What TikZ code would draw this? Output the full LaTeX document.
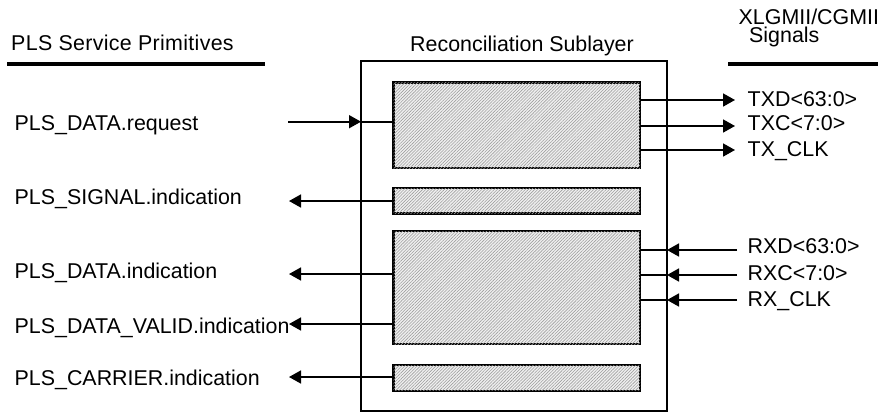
\documentclass[tikz,border=0pt]{standalone}
\usepackage{fontspec}
\setmainfont{Liberation Sans}
\usetikzlibrary{arrows.meta,patterns.meta}
\begin{document}
\begin{tikzpicture}[x=1pt,y=-1pt,
  lbl/.style={font=\fontsize{21.4}{24}\selectfont, inner sep=0pt, anchor=base west},
  outerbox/.style={draw, line width=2.8pt, inner sep=0pt, outer sep=0pt, anchor=north west},
  hatchbox/.style={draw, line width=2.3pt, inner sep=0pt, outer sep=0pt, anchor=north west,
    fill=gray!12, postaction={pattern={Lines[angle=45,distance=2.2pt,line width=0.6pt]}, pattern color=gray!75}},
  arr/.style={line width=1.7pt, -{Triangle[length=12pt,width=13pt]}},
  conn/.style={line width=1.7pt},
  rulebar/.style={line width=3.2pt}]
\useasboundingbox (0,0) rectangle (878,413);

% boxes
\node[outerbox, minimum width=306pt, minimum height=350pt] (rs) at (361,61) {};
\node[hatchbox, minimum width=246.5pt, minimum height=85.5pt] (b1) at (393.5,82.5) {};
\node[hatchbox, minimum width=246.5pt, minimum height=25.5pt] (b2) at (393.5,188) {};
\node[hatchbox, minimum width=246.5pt, minimum height=113pt] (b3) at (393.5,231) {};
\node[hatchbox, minimum width=246.5pt, minimum height=25.7pt] (b4) at (393.5,365) {};

% headers
\node[lbl, font=\fontsize{21.4}{24}\selectfont\addfontfeature{LetterSpace=1.5}] (hl) at (11,50) {PLS Service Primitives};
\node[lbl] (hm) at (410,51.7) {Reconciliation Sublayer};
\node[lbl, text depth=0pt] (hr1) at (738.5,24.5) {XLGMII/CGMII};
\node[lbl, text height=15.5pt] (hr2) at (749,42.2) {Signals};
\coordinate (rlA) at (7,64);
\coordinate (rlB) at (265,64);
\coordinate (rrA) at (728,64);
\coordinate (rrB) at (878,64);
\draw[rulebar] (rlA) -- (rlB);
\draw[rulebar] (rrA) -- (rrB);

% left labels
\node[lbl] (req) at (14.5,130) {PLS\_DATA.request};
\node[lbl] (sig) at (14.5,204) {PLS\_SIGNAL.indication};
\node[lbl] (dind) at (14.5,278) {PLS\_DATA.indication};
\node[lbl] (dval) at (14.5,333) {PLS\_DATA\_VALID.indication};
\node[lbl] (car) at (14.5,385) {PLS\_CARRIER.indication};

% right labels
\node[lbl] (txd) at (747.5,106.5) {TXD<63:0>};
\node[lbl] (txc) at (747.5,130.5) {TXC<7:0>};
\node[lbl] (txclk) at (747.5,156.5) {TX\_CLK};
\node[lbl] (rxd) at (747.5,253) {RXD<63:0>};
\node[lbl] (rxc) at (747.5,280) {RXC<7:0>};
\node[lbl] (rxclk) at (747.5,306) {RX\_CLK};

% left connectors
\coordinate (reqS) at (288,121.7);
\draw[arr] (reqS) -- (reqS -| rs.west);
\draw[conn] (reqS -| rs.west) -- (reqS -| b1.west);
\coordinate (sigT) at (289,201);
\draw[arr] (sigT -| b2.west) -- (sigT);
\coordinate (dindT) at (289,274);
\draw[arr] (dindT -| b3.west) -- (dindT);
\coordinate (dvalT) at (289,324);
\draw[arr] (dvalT -| b3.west) -- (dvalT);
\coordinate (carT) at (289,377);
\draw[arr] (carT -| b4.west) -- (carT);

% right connectors
\coordinate (txdT) at (735,100);
\draw[arr] (txdT -| b1.east) -- (txdT);
\coordinate (txcT) at (735,126);
\draw[arr] (txcT -| b1.east) -- (txcT);
\coordinate (txclkT) at (735,150);
\draw[arr] (txclkT -| b1.east) -- (txclkT);
\coordinate (rxdS) at (737,250);
\draw[arr] (rxdS) -- (rxdS -| rs.east);
\draw[conn] (rxdS -| rs.east) -- (rxdS -| b3.east);
\coordinate (rxcS) at (737,275);
\draw[arr] (rxcS) -- (rxcS -| rs.east);
\draw[conn] (rxcS -| rs.east) -- (rxcS -| b3.east);
\coordinate (rxclkS) at (737,300);
\draw[arr] (rxclkS) -- (rxclkS -| rs.east);
\draw[conn] (rxclkS -| rs.east) -- (rxclkS -| b3.east);
\end{tikzpicture}
\end{document}
